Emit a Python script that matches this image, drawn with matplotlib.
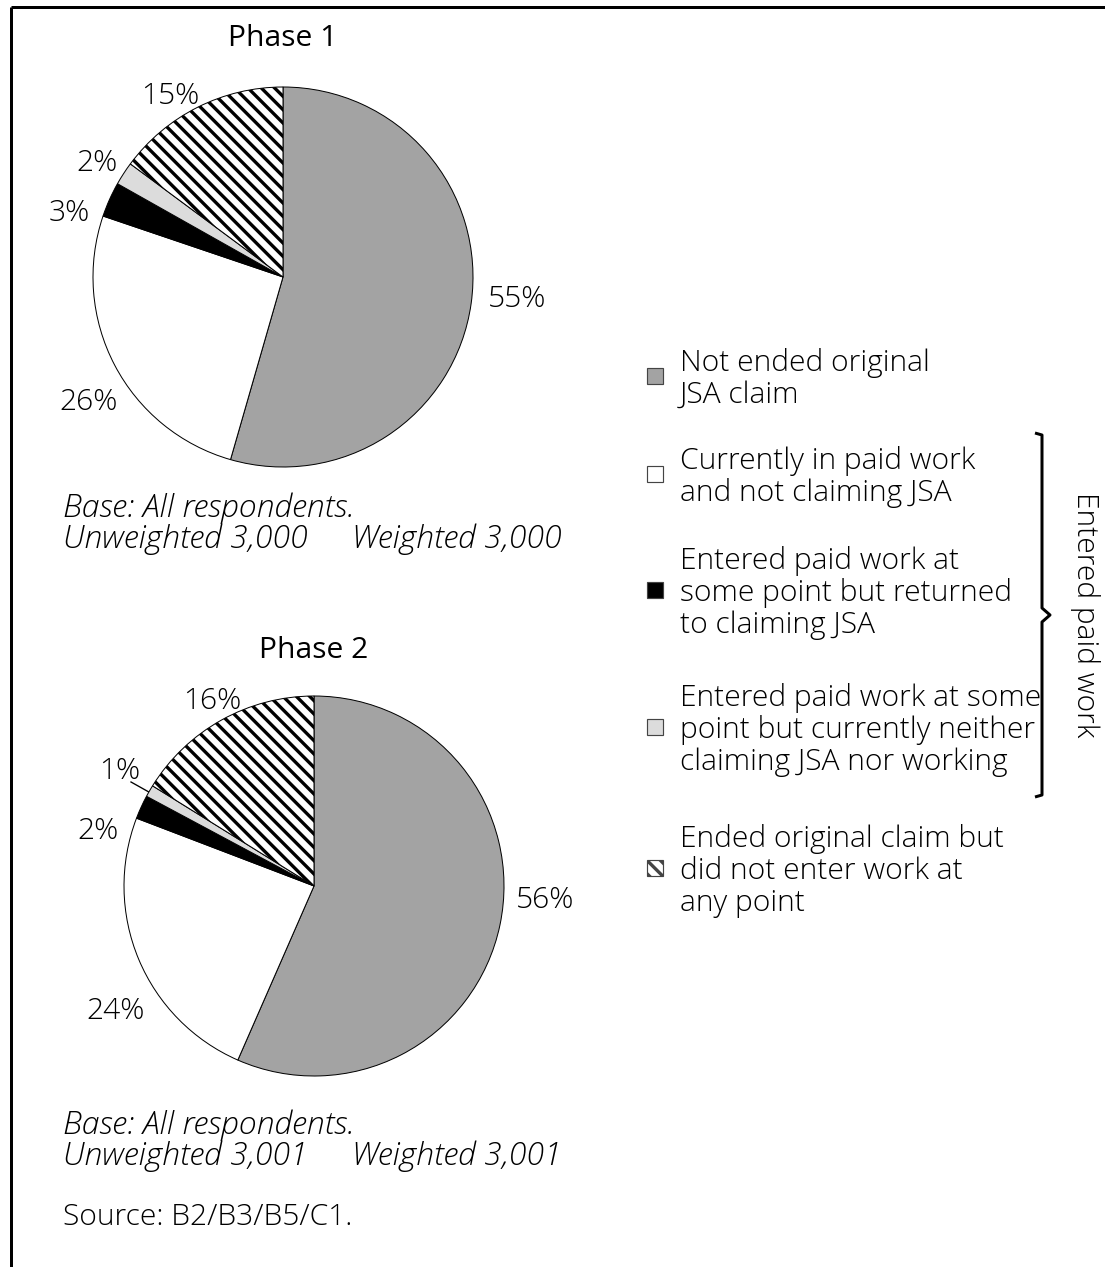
import matplotlib.pyplot as plt
from matplotlib.patches import Rectangle
from matplotlib.path import Path
from matplotlib.patches import PathPatch

plt.rcParams['font.family'] = ['Open Sans', 'DejaVu Sans']
plt.rcParams['font.weight'] = 'light'
plt.rcParams['hatch.linewidth'] = 2.0

# data
categories = ["Not ended original\nJSA claim",
              "Currently in paid work\nand not claiming JSA",
              "Entered paid work at\nsome point but returned\nto claiming JSA",
              "Entered paid work at some\npoint but currently neither\nclaiming JSA nor working",
              "Ended original claim but\ndid not enter work at\nany point"]
phase1 = [55, 26, 3, 2, 15]
phase2 = [56, 24, 2, 1, 16]
labels1 = ["55%", "26%", "3%", "2%", "15%"]
labels2 = ["56%", "24%", "2%", "1%", "16%"]
colors = ["#a3a3a3", "white", "black", "#dcdcdc", "white"]
hatches = [None, None, None, None, "\\\\\\"]
base1 = ["Base: All respondents.", "Unweighted 3,000", "Weighted 3,000"]
base2 = ["Base: All respondents.", "Unweighted 3,001", "Weighted 3,001"]

W, H, DPI = 1105, 1267, 120
fig = plt.figure(figsize=(W / DPI, H / DPI), dpi=DPI)

# overlay axes in pixel coordinates
ax0 = fig.add_axes([0, 0, 1, 1])
ax0.set_xlim(0, W)
ax0.set_ylim(H, 0)
ax0.axis('off')

FS = 18
LS = 1.12

# frame (top and left only)
ax0.plot([11, W], [7, 7], color="black", lw=1.8, solid_capstyle="butt")
ax0.plot([11, 11], [7, H], color="black", lw=1.8, solid_capstyle="butt")


def draw_pie(values, cx, cy, r):
    m = 1.05
    rect = [(cx - r * m) / W, 1 - (cy + r * m) / H, 2 * r * m / W, 2 * r * m / H]
    ax = fig.add_axes(rect)
    wedges, _ = ax.pie(values, colors=colors, startangle=90, counterclock=False,
                       wedgeprops=dict(edgecolor="black", linewidth=0.6))
    for w, h in zip(wedges, hatches):
        if h:
            w.set_hatch(h)
    ax.set_xlim(-m, m)
    ax.set_ylim(-m, m)
    ax.axis('off')


def draw_base(lines, y):
    kw = dict(fontsize=19.2, style="italic", ha="left", va="center")
    ax0.text(63, y, lines[0], **kw)
    ax0.text(63, y + 31, lines[1], **kw)
    ax0.text(352, y + 31, lines[2], **kw)


# Phase 1
ax0.text(283, 39, "Phase 1", fontsize=FS, fontweight="normal", ha="center", va="center")
draw_pie(phase1, 283, 277, 190)
pos1 = [(517, 299), (89, 402), (69, 213), (97, 163), (170, 96)]
for lab, (x, y) in zip(labels1, pos1):
    ax0.text(x, y, lab, fontsize=FS, ha="center", va="center")
draw_base(base1, 508)

# Phase 2
ax0.text(314, 650, "Phase 2", fontsize=FS, fontweight="normal", ha="center", va="center")
draw_pie(phase2, 314, 886, 190)
pos2 = [(545, 900), (116, 1011), (98, 831), (120, 771), (212, 701)]
for lab, (x, y) in zip(labels2, pos2):
    ax0.text(x, y, lab, fontsize=FS, ha="center", va="center")
ax0.plot([131, 156], [782, 796], color="black", lw=0.8)
draw_base(base2, 1125)

ax0.text(63, 1217, "Source: B2/B3/B5/C1.", fontsize=FS, ha="left", va="center")

# legend
leg_y = [376, 474, 590, 727, 868]
for cat, col, h, y in zip(categories, colors, hatches, leg_y):
    ax0.add_patch(Rectangle((647, y - 8), 16, 16, facecolor=col, edgecolor="#444444",
                            lw=0.7, hatch=h))
    ax0.text(680, y + 3, cat, fontsize=FS, ha="left", va="center", linespacing=LS)

# brace
verts = [(1035, 433), (1042, 435), (1042, 608), (1050, 615), (1042, 622),
         (1042, 795), (1035, 797)]
codes = [Path.MOVETO] + [Path.LINETO] * (len(verts) - 1)
ax0.add_patch(PathPatch(Path(verts, codes), facecolor="none", edgecolor="black",
                        lw=1.8, joinstyle="round"))
ax0.text(1085, 615, "Entered paid work", fontsize=FS, rotation=270,
         ha="center", va="center")

fig.savefig("out.png", dpi=DPI)
